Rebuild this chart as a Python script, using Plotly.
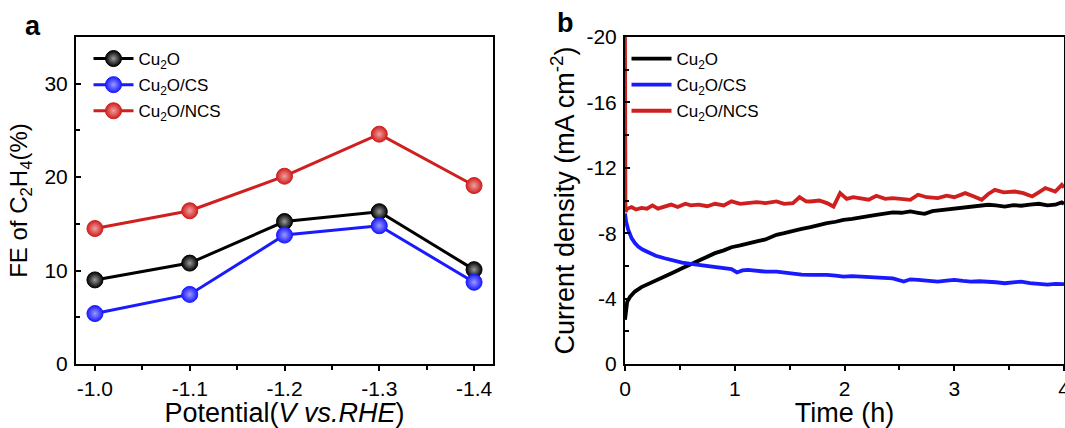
import plotly.graph_objects as go

# ---------------- Panel a data ----------------
potential = [-1.0, -1.1, -1.2, -1.3, -1.4]
potential_ticks = ["-1.0", "-1.1", "-1.2", "-1.3", "-1.4"]
fe_cu2o = [9.0, 10.8, 15.25, 16.3, 10.1]
fe_cu2o_cs = [5.4, 7.45, 13.8, 14.8, 8.75]
fe_cu2o_ncs = [14.5, 16.4, 20.1, 24.6, 19.1]

# ---------------- Panel b data ----------------
t_cu2o = [0.0, 0.01, 0.02, 0.045, 0.09, 0.15, 0.21, 0.28, 0.36, 0.44, 0.52, 0.6, 0.67, 0.75,
          0.82, 0.9, 0.97, 1.05, 1.12, 1.2, 1.28, 1.38, 1.45, 1.53, 1.6, 1.69, 1.76, 1.84,
          1.92, 1.99, 2.07, 2.14, 2.22, 2.29, 2.37, 2.44, 2.52, 2.6, 2.67, 2.73, 2.8, 2.85,
          2.93, 3.0, 3.08, 3.15, 3.23, 3.31, 3.38, 3.46, 3.54, 3.61, 3.69, 3.77, 3.85, 3.92,
          3.98, 4.0]
j_cu2o = [-2.7, -3.4, -3.8, -4.1, -4.43, -4.7, -4.9, -5.1, -5.35, -5.6, -5.86, -6.1, -6.37, -6.6,
          -6.78, -6.95, -7.14, -7.25, -7.39, -7.5, -7.62, -7.9, -8.0, -8.16, -8.25, -8.37, -8.5,
          -8.61, -8.7, -8.82, -8.88, -8.98, -9.05, -9.12, -9.2, -9.27, -9.25, -9.33, -9.25, -9.18,
          -9.35, -9.39, -9.45, -9.53, -9.6, -9.63, -9.7, -9.74, -9.7, -9.63, -9.72, -9.68, -9.75,
          -9.8, -9.7, -9.74, -9.88, -9.8]

t_cu2o_cs = [0.0, 0.01, 0.03, 0.06, 0.09, 0.12, 0.16, 0.21, 0.28, 0.36, 0.44, 0.52, 0.6, 0.67,
             0.75, 0.82, 0.9, 0.97, 1.02, 1.07, 1.12, 1.2, 1.28, 1.38, 1.45, 1.53, 1.61, 1.69,
             1.77, 1.84, 1.92, 1.99, 2.07, 2.14, 2.22, 2.29, 2.37, 2.44, 2.54, 2.6, 2.67, 2.75,
             2.85, 2.93, 3.0, 3.08, 3.15, 3.23, 3.31, 3.38, 3.46, 3.54, 3.61, 3.69, 3.77, 3.85,
             3.92, 4.0]
j_cu2o_cs = [-9.2, -8.7, -8.2, -7.7, -7.4, -7.18, -7.0, -6.82, -6.62, -6.47, -6.32, -6.2, -6.12,
             -6.06, -5.98, -5.92, -5.86, -5.8, -5.6, -5.72, -5.76, -5.68, -5.65, -5.65, -5.58,
             -5.51, -5.47, -5.45, -5.46, -5.45, -5.4, -5.35, -5.37, -5.35, -5.3, -5.3, -5.27,
             -5.24, -5.04, -5.18, -5.14, -5.1, -5.04, -5.1, -5.14, -5.08, -5.04, -5.06, -5.04,
             -5.0, -4.94, -4.98, -5.04, -4.95, -4.9, -4.86, -4.9, -4.88]

t_cu2o_ncs = [0.0, 0.004, 0.02, 0.06, 0.1, 0.15, 0.2, 0.25, 0.3, 0.36, 0.42, 0.48, 0.55, 0.6,
              0.67, 0.75, 0.82, 0.9, 0.97, 1.05, 1.12, 1.2, 1.28, 1.38, 1.45, 1.53, 1.59, 1.65,
              1.69, 1.77, 1.84, 1.9, 1.96, 2.02, 2.08, 2.14, 2.22, 2.29, 2.37, 2.44, 2.52, 2.6,
              2.67, 2.75, 2.85, 2.93, 3.0, 3.1, 3.18, 3.25, 3.31, 3.37, 3.45, 3.55, 3.63, 3.71,
              3.77, 3.83, 3.92, 3.98, 4.0]
j_cu2o_ncs = [-20.0, -9.3, -9.5, -9.6, -9.45, -9.55, -9.5, -9.7, -9.5, -9.65, -9.75, -9.6, -9.8,
              -9.7, -9.75, -9.65, -9.8, -9.7, -9.95, -9.8, -9.85, -9.9, -9.84, -9.94, -9.8, -9.84,
              -10.2, -9.95, -9.94, -10.0, -9.84, -9.63, -10.45, -10.1, -10.2, -10.15, -10.05,
              -10.29, -10.1, -10.15, -10.1, -10.04, -10.35, -10.2, -10.15, -10.3, -10.2, -10.45,
              -10.25, -10.04, -10.4, -10.65, -10.5, -10.55, -10.45, -10.25, -10.5, -10.76, -10.55,
              -10.96, -10.8]

j_tickvals = [0, -4, -8, -12, -16, -20]
j_ticktext = ["0", "-4", "-8", "-12", "-16", "-20"]

names = ["Cu<sub>2</sub>O", "Cu<sub>2</sub>O/CS", "Cu<sub>2</sub>O/NCS"]
colors = ["#000000", "#1a1aff", "#d01f1f"]
highlights = ["#9a9a9a", "#9a9aff", "#f0a0a0"]

FONT = "Liberation Sans, Arial, sans-serif"
W, H = 1065, 428
# plot area in screenshot pixels
L, R, T, B = 76, 1064, 37, 364
PW, PH = R - L, B - T


def px(x):
    return (x - L) / PW


def py(y):
    return (B - y) / PH


fig = go.Figure()

for name, ys, c, h in zip(names, [fe_cu2o, fe_cu2o_cs, fe_cu2o_ncs], colors, highlights):
    fig.add_trace(go.Scatter(
        x=potential, y=ys, name=name, mode="lines+markers",
        line=dict(color=c, width=3),
        marker=dict(size=16, color=c, line=dict(color=c, width=1),
                    gradient=dict(type="radial", color=h)),
        xaxis="x", yaxis="y", legend="legend", legendgroup="a" + name,
    ))

for name, tx, jy, c in zip(names, [t_cu2o, t_cu2o_cs, t_cu2o_ncs],
                           [j_cu2o, j_cu2o_cs, j_cu2o_ncs], colors):
    fig.add_trace(go.Scatter(
        x=tx, y=jy, name=name, mode="lines",
        line=dict(color=c, width=3.8),
        xaxis="x2", yaxis="y2", legend="legend2", legendgroup="b" + name,
    ))

axis_common = dict(showline=True, linecolor="black", linewidth=2, mirror=True,
                   showgrid=False, zeroline=False, ticklen=5, tickwidth=1.5,
                   tickcolor="black", automargin=False, ticklabeloverflow="allow",
                   tickfont=dict(family=FONT, size=21, color="black"))

fig.update_layout(
    width=W, height=H,
    margin=dict(l=L, r=W - R, t=T, b=H - B, autoexpand=False),
    paper_bgcolor="white", plot_bgcolor="white",
    font=dict(family=FONT, color="black"),
    showlegend=True,
    xaxis=dict(domain=[0, px(493)], range=[-0.98, -1.42],
               tickmode="array", tickvals=potential, ticktext=potential_ticks,
               ticks="outside", minor=dict(ticks="outside", dtick=0.05, tick0=-1.0, ticklen=4,
                                           tickcolor="black"),
               title=dict(text="Potential(<i>V vs.RHE</i>)", font=dict(family=FONT, size=27),
                          standoff=3),
               anchor="y", **axis_common),
    yaxis=dict(domain=[0, 1], range=[0, 35],
               tickmode="array", tickvals=[0, 10, 20, 30],
               ticks="inside", ticklabelstandoff=2,
               minor=dict(ticks="inside", dtick=5, ticklen=4, tickcolor="black"),
               title=dict(text="FE of C<sub>2</sub>H<sub>4</sub>(%)",
                          font=dict(family=FONT, size=24), standoff=10),
               anchor="x", **axis_common),
    xaxis2=dict(domain=[px(625), 1], range=[0, 4],
                tickmode="array", tickvals=[0, 1, 2, 3, 4],
                ticks="outside", minor=dict(ticks="outside", dtick=0.5, ticklen=4,
                                            tickcolor="black"),
                title=dict(text="Time (h)", font=dict(family=FONT, size=27), standoff=4),
                anchor="y2", **axis_common),
    yaxis2=dict(domain=[0, 1], range=[0, -20],
                tickmode="array", tickvals=j_tickvals, ticktext=j_ticktext,
                ticks="inside", ticklabelstandoff=2,
                minor=dict(ticks="inside", dtick=2, ticklen=4, tickcolor="black"),
                title=dict(text="Current density (mA cm<sup>-2</sup>)",
                           font=dict(family=FONT, size=27), standoff=4),
                anchor="x2", **axis_common),
    legend=dict(x=px(88.5), y=py(41), xanchor="left", yanchor="top",
                bgcolor="rgba(0,0,0,0)", font=dict(family=FONT, size=17),
                tracegroupgap=1, itemwidth=40),
    legend2=dict(x=px(626.5), y=py(41), xanchor="left", yanchor="top",
                 bgcolor="rgba(0,0,0,0)", font=dict(family=FONT, size=17),
                 tracegroupgap=1, itemwidth=40),
    annotations=[
        dict(text="<b>a</b>", x=px(33), y=py(26), xref="paper", yref="paper", showarrow=False,
             xanchor="center", yanchor="middle", font=dict(family=FONT, size=27)),
        dict(text="<b>b</b>", x=px(565), y=py(23), xref="paper", yref="paper", showarrow=False,
             xanchor="center", yanchor="middle", font=dict(family=FONT, size=27)),
    ],
)

# remove the browser's default page margin so the figure sits at the window's top-left
fig.write_html(
    "out.html",
    config={"displayModeBar": False},
    post_script="document.body.style.margin='0';document.body.style.overflow='hidden';",
)
